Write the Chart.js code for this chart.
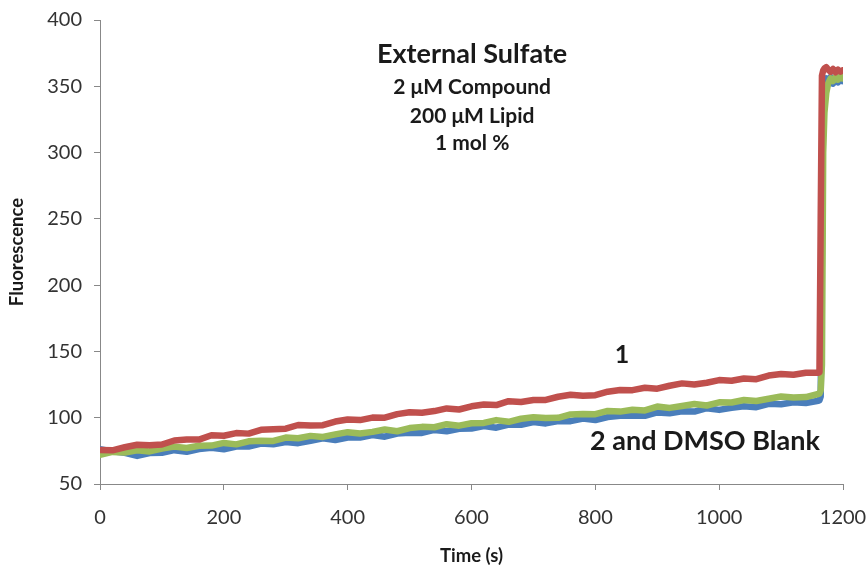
<!DOCTYPE html>
<html>
<head>
<meta charset="utf-8">
<script src="https://cdn.jsdelivr.net/npm/chart.js@4.4.1/dist/chart.umd.min.js"></script>
<style>
  html, body { margin: 0; padding: 0; background: #fff; }
  #wrap { width: 868px; height: 567px; }
</style>
</head>
<body>
<div id="wrap"><canvas id="fluoChart" width="868" height="567"></canvas></div>
<script>
// temps (s) : toutes les 20 s, puis le saut final plus serré
const timeS = [
  0, 20, 40, 60, 80, 100, 120, 140, 160, 180, 200, 220, 240, 260, 280, 300,
  320, 340, 360, 380, 400, 420, 440, 460, 480, 500, 520, 540, 560, 580, 600,
  620, 640, 660, 680, 700, 720, 740, 760, 780, 800, 820, 840, 860, 880, 900,
  920, 940, 960, 980, 1000, 1020, 1040, 1060, 1080, 1100, 1120, 1140, 1160,
  1162, 1164, 1166, 1168, 1170, 1173, 1176, 1180, 1184, 1188, 1192, 1196, 1199
];

// composé 1 (rouge)
const compound1 = [
  75.6, 75.4, 77.7, 79.6, 79.3, 79.8, 82.8, 83.5, 83.5, 86.8, 86.4, 88.4, 88.0, 90.9, 91.3, 91.7,
  94.5, 94.1, 94.4, 97.1, 98.7, 98.2, 100.1, 100.0, 102.7, 104.1, 103.7, 105.0, 107.0, 106.2, 108.6,
  110.0, 109.5, 112.5, 111.9, 113.4, 113.4, 115.8, 117.3, 116.6, 117.0, 119.6, 120.9, 120.8, 122.6, 121.9,
  124.1, 125.9, 125.0, 126.4, 128.4, 127.9, 129.6, 129.1, 131.8, 132.9, 132.4, 133.9, 133.9,
  134.3, 250, 358, 362, 363.5, 364.5, 362.5, 361, 363, 360.5, 362.5, 361, 362
];

// composé 2 (vert)
const compound2 = [
  72.0, 74.2, 73.8, 75.4, 74.6, 76.8, 78.2, 77.2, 78.9, 79.0, 81.0, 79.9, 82.2, 82.6, 82.5, 85.0,
  84.5, 86.3, 85.5, 87.4, 89.1, 88.1, 89.3, 91.1, 89.8, 92.2, 93.1, 92.8, 95.1, 94.0, 95.8,
  96.1, 98.2, 96.9, 99.2, 100.3, 99.8, 99.9, 102.5, 102.8, 102.7, 105.1, 104.6, 106.0, 105.5, 108.4,
  107.4, 108.8, 110.3, 109.2, 111.6, 111.5, 113.4, 112.6, 114.3, 116.0, 115.2, 115.6, 117.9,
  118.3, 120.5, 140, 300, 330, 345, 352, 356, 354, 357, 355, 357.5, 356
];

// blanc DMSO (bleu)
const dmsoBlank = [
  76.3, 74.6, 73.5, 71.2, 73.4, 73.5, 75.5, 74.3, 76.3, 77.3, 76.2, 78.3, 78.3, 80.5, 80.0, 81.6,
  80.8, 82.6, 84.4, 83.2, 85.0, 85.0, 86.9, 85.7, 88.1, 88.6, 88.5, 90.8, 89.8, 91.7, 91.9,
  93.7, 92.5, 94.8, 94.7, 96.8, 95.7, 97.4, 97.4, 99.4, 98.3, 100.5, 101.5, 101.4, 101.4, 104.0,
  103.4, 104.8, 104.6, 107.2, 105.9, 107.5, 108.7, 107.9, 110.5, 110.1, 111.7, 111.1, 112.8,
  113.2, 116, 230, 340, 352, 356, 353, 357, 352, 355, 353, 356, 354
];

const xTicks = [0, 200, 400, 600, 800, 1000, 1200];
const yTicks = [50, 100, 150, 200, 250, 300, 350, 400];

// textes posés sur le graphique (coordonnées en unités des axes)
const notes = [
  { text: "External Sulfate", x: 601, y: 374.5, size: 27 },
  { text: "2 \u03bcM Compound", x: 601, y: 349.5, size: 21 },
  { text: "200 \u03bcM Lipid", x: 601, y: 327.5, size: 21 },
  { text: "1 mol %", x: 601, y: 307, size: 21 },
  { text: "1", x: 843, y: 147, size: 25 },
  { text: "2 and DMSO Blank", x: 977, y: 82, size: 27 }
];

function toPoints(values) {
  return values.map((v, i) => ({ x: timeS[i], y: v }));
}

const FONT = "Lato, 'Open Sans', sans-serif";

const notesPlugin = {
  id: "notes",
  afterDatasetsDraw(chart) {
    const ctx = chart.ctx;
    const xs = chart.scales.x, ys = chart.scales.y;
    ctx.save();
    ctx.fillStyle = "#1a1a1a";
    ctx.textAlign = "center";
    ctx.textBaseline = "middle";
    notes.forEach(n => {
      ctx.font = "bold " + n.size + "px " + FONT;
      ctx.fillText(n.text, xs.getPixelForValue(n.x), ys.getPixelForValue(n.y));
    });
    ctx.restore();
  }
};

const ctx = document.getElementById("fluoChart").getContext("2d");
new Chart(ctx, {
  type: "line",
  data: {
    datasets: [
      { label: "1", data: toPoints(compound1), borderColor: "#C0504D" },
      { label: "2", data: toPoints(compound2), borderColor: "#9BBB59" },
      { label: "DMSO Blank", data: toPoints(dmsoBlank), borderColor: "#4A7EBB" }
    ]
  },
  options: {
    responsive: false,
    animation: false,
    layout: { padding: { left: 0, top: 20, right: 25, bottom: 0 } },
    elements: {
      line: { borderWidth: 6.5, tension: 0, borderJoinStyle: "round", borderCapStyle: "round", fill: false },
      point: { radius: 0, hoverRadius: 0 }
    },
    plugins: {
      legend: { display: false },
      tooltip: { enabled: false }
    },
    scales: {
      x: {
        type: "linear",
        min: 0,
        max: 1200,
        afterBuildTicks: s => { s.ticks = xTicks.map(v => ({ value: v })); },
        afterFit: s => { s.height = 567 - 484; s.paddingLeft = 0; s.paddingRight = 0; },
        grid: { display: true, drawOnChartArea: false, drawTicks: true, tickLength: 6, color: "#888" },
        border: { display: true, color: "#888", width: 1 },
        ticks: { color: "#333", padding: 16, font: { family: FONT, size: 20 }, callback: v => String(v) },
        title: { display: true, text: "Time (s)", color: "#1a1a1a", padding: { top: 2, bottom: 0 }, font: { family: FONT, size: 18.5, weight: "bold" } }
      },
      y: {
        type: "linear",
        min: 50,
        max: 400,
        afterBuildTicks: s => { s.ticks = yTicks.map(v => ({ value: v })); },
        afterFit: s => { s.width = 100; s.paddingTop = 0; s.paddingBottom = 0; },
        grid: { display: true, drawOnChartArea: false, drawTicks: true, tickLength: 6, color: "#888" },
        border: { display: true, color: "#888", width: 1 },
        ticks: { color: "#333", padding: 12, font: { family: FONT, size: 20 }, callback: v => String(v) },
        title: { display: true, text: "Fluorescence", color: "#1a1a1a", padding: { top: 6, bottom: 0 }, font: { family: FONT, size: 18.5, weight: "bold" } }
      }
    }
  },
  plugins: [notesPlugin]
});
</script>
</body>
</html>
